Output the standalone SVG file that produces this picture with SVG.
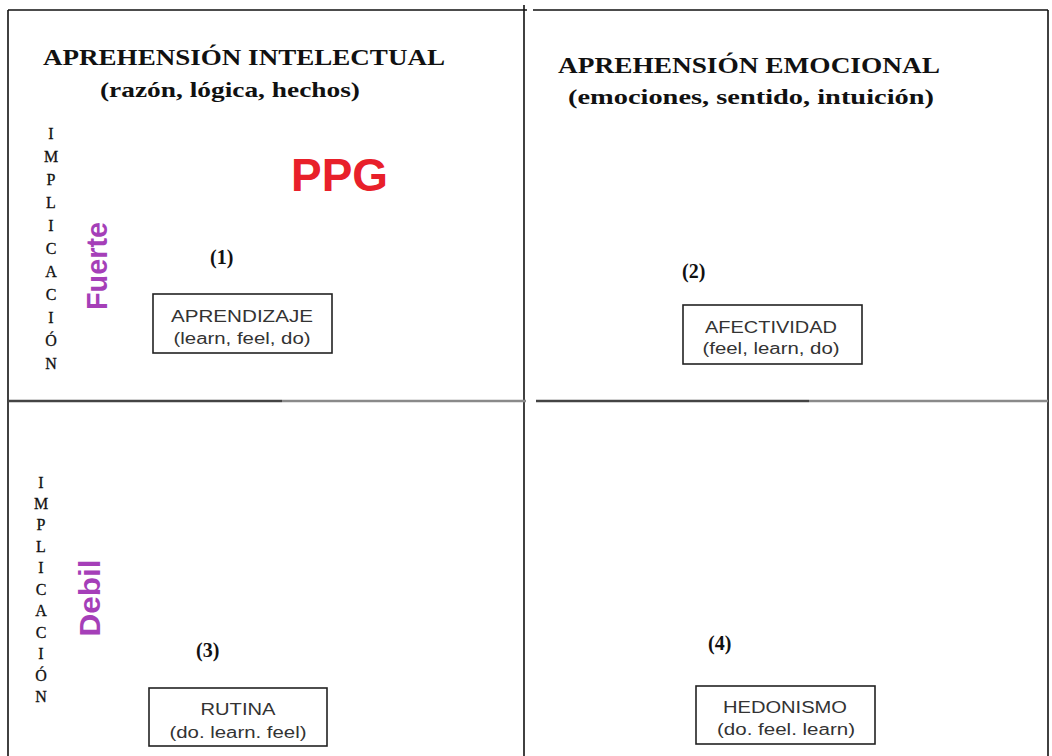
<svg xmlns="http://www.w3.org/2000/svg" width="1052" height="756" viewBox="0 0 1052 756">
<style>
.ln{stroke:#111;stroke-width:1.6;fill:none}
.title{font-family:"Liberation Serif","Times New Roman",serif;font-weight:bold;fill:#111}
.num{font-family:"Liberation Serif","Times New Roman",serif;font-weight:bold;font-size:20px;fill:#111}
.vl{font-family:"Liberation Serif","Times New Roman",serif;font-size:16px;fill:#111;text-anchor:middle;stroke:#111;stroke-width:0.3}
.box{fill:#fff;stroke:#222;stroke-width:1.6}
.bt{font-family:"Liberation Sans",Arial,sans-serif;font-size:16px;fill:#333;text-anchor:middle}
.pur{font-family:"Liberation Sans",Arial,sans-serif;font-weight:bold;font-size:29px;fill:#a53fb8;text-anchor:middle}
</style>
<rect width="1052" height="756" fill="#fff"/>
<g id="grid">
<line class="ln" x1="8" y1="10" x2="527" y2="10"/>
<line class="ln" x1="533" y1="10" x2="1048" y2="10"/>
<line class="ln" x1="8" y1="10" x2="8" y2="756"/>
<line class="ln" x1="524" y1="5" x2="524" y2="756"/>
<line class="ln" x1="1048" y1="10" x2="1048" y2="756"/>
<line x1="8" y1="401" x2="282" y2="401" stroke="#444" stroke-width="2.5"/>
<line x1="282" y1="401" x2="526" y2="401" stroke="#8a8a8a" stroke-width="2.5"/>
<line x1="536" y1="401" x2="809" y2="401" stroke="#444" stroke-width="2.5"/>
<line x1="809" y1="401" x2="1048" y2="401" stroke="#8a8a8a" stroke-width="2.5"/>
</g>
<g id="headers">
<text class="title" x="43" y="65" font-size="23" textLength="402" lengthAdjust="spacingAndGlyphs">APREHENSIÓN INTELECTUAL</text>
<text class="title" x="100" y="97" font-size="21" textLength="260" lengthAdjust="spacingAndGlyphs">(razón, lógica, hechos)</text>
<text class="title" x="558" y="73" font-size="23" textLength="382" lengthAdjust="spacingAndGlyphs">APREHENSIÓN EMOCIONAL</text>
<text class="title" x="568" y="104" font-size="21" textLength="366" lengthAdjust="spacingAndGlyphs">(emociones, sentido, intuición)</text>
<text x="291" y="191" font-family="Liberation Sans,Arial,sans-serif" font-weight="bold" font-size="46" fill="#e8202a" textLength="97" lengthAdjust="spacingAndGlyphs">PPG</text>
</g>
<g id="axis-fuerte">
<text class="vl" x="51" y="139">I</text>
<text class="vl" x="51" y="162">M</text>
<text class="vl" x="51" y="185">P</text>
<text class="vl" x="51" y="208">L</text>
<text class="vl" x="51" y="231">I</text>
<text class="vl" x="51" y="254">C</text>
<text class="vl" x="51" y="277">A</text>
<text class="vl" x="51" y="300">C</text>
<text class="vl" x="51" y="323">I</text>
<text class="vl" x="51" y="346">Ó</text>
<text class="vl" x="51" y="369">N</text>
<text class="pur" transform="translate(107,266) rotate(-90)" textLength="88" lengthAdjust="spacingAndGlyphs">Fuerte</text>
</g>
<g id="axis-debil">
<text class="vl" x="41" y="488">I</text>
<text class="vl" x="41" y="509">M</text>
<text class="vl" x="41" y="530">P</text>
<text class="vl" x="41" y="552">L</text>
<text class="vl" x="41" y="573">I</text>
<text class="vl" x="41" y="595">C</text>
<text class="vl" x="41" y="616">A</text>
<text class="vl" x="41" y="638">C</text>
<text class="vl" x="41" y="659">I</text>
<text class="vl" x="41" y="681">Ó</text>
<text class="vl" x="41" y="702">N</text>
<text class="pur" transform="translate(100,598) rotate(-90)" textLength="77" lengthAdjust="spacingAndGlyphs">Debil</text>
</g>
<g id="q1">
<text class="num" x="210" y="264">(1)</text>
<rect class="box" x="153" y="294" width="179" height="59"/>
<text class="bt" x="242" y="322" textLength="142" lengthAdjust="spacingAndGlyphs">APRENDIZAJE</text>
<text class="bt" x="242" y="344" textLength="137" lengthAdjust="spacingAndGlyphs">(learn, feel, do)</text>
</g>
<g id="q2">
<text class="num" x="682" y="278">(2)</text>
<rect class="box" x="683" y="305" width="179" height="59"/>
<text class="bt" x="771" y="333" textLength="132" lengthAdjust="spacingAndGlyphs">AFECTIVIDAD</text>
<text class="bt" x="771" y="354" textLength="137" lengthAdjust="spacingAndGlyphs">(feel, learn, do)</text>
</g>
<g id="q3">
<text class="num" x="196" y="657">(3)</text>
<rect class="box" x="149" y="688" width="178" height="58"/>
<text class="bt" x="238" y="715" textLength="75" lengthAdjust="spacingAndGlyphs">RUTINA</text>
<text class="bt" x="238" y="738" textLength="137" lengthAdjust="spacingAndGlyphs">(do. learn. feel)</text>
</g>
<g id="q4">
<text class="num" x="708" y="650">(4)</text>
<rect class="box" x="696" y="686" width="179" height="58"/>
<text class="bt" x="785" y="713" textLength="124" lengthAdjust="spacingAndGlyphs">HEDONISMO</text>
<text class="bt" x="786" y="735" textLength="138" lengthAdjust="spacingAndGlyphs">(do. feel. learn)</text>
</g>
</svg>
